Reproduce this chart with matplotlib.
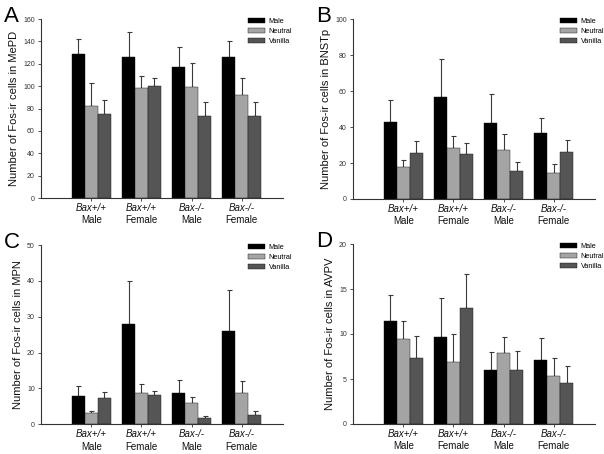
import matplotlib
matplotlib.use("Agg")
import matplotlib.pyplot as plt
import numpy as np

plt.rcParams['font.family'] = ['Liberation Sans', 'DejaVu Sans']

genotypes = ["Bax+/+", "Bax+/+", "Bax-/-", "Bax-/-"]
sexes = ["Male", "Female", "Male", "Female"]
series = ["Male", "Neutral", "Vanilla"]
colors = ["#000000", "#a4a4a4", "#555555"]

# Panel A: MePD
mepd_mean = {"Male": [128.5, 125.8, 117.2, 126.1],
             "Neutral": [81.8, 98.7, 99.6, 91.9],
             "Vanilla": [75.2, 100.2, 72.9, 72.9]}
mepd_top = {"Male": [141.9, 148.4, 135.0, 140.7],
            "Neutral": [102.6, 109.1, 120.4, 107.0],
            "Vanilla": [87.7, 107.7, 85.6, 86.2]}
# Panel B: BNSTp
bnstp_mean = {"Male": [42.5, 56.6, 42.1, 36.4],
              "Neutral": [17.6, 28.2, 27.1, 14.4],
              "Vanilla": [25.7, 25.2, 15.6, 25.9]}
bnstp_top = {"Male": [54.9, 77.7, 58.3, 44.9],
             "Neutral": [21.5, 35.2, 36.0, 19.6],
             "Vanilla": [32.0, 31.3, 20.4, 33.0]}
# Panel C: MPN
mpn_mean = {"Male": [7.9, 27.9, 8.6, 26.1],
            "Neutral": [3.1, 8.8, 6.0, 8.6],
            "Vanilla": [7.2, 8.2, 1.7, 2.7]}
mpn_top = {"Male": [10.6, 40.1, 12.3, 37.4],
           "Neutral": [3.8, 11.1, 7.5, 12.2],
           "Vanilla": [8.9, 9.4, 2.3, 3.8]}
# Panel D: AVPV
avpv_mean = {"Male": [11.4, 9.7, 6.0, 7.1],
             "Neutral": [9.4, 6.9, 7.9, 5.3],
             "Vanilla": [7.3, 12.9, 6.0, 4.6]}
avpv_top = {"Male": [14.3, 14.0, 8.0, 9.6],
            "Neutral": [11.4, 10.0, 9.7, 7.3],
            "Vanilla": [9.8, 16.7, 8.1, 6.5]}

panels = [
    ("A", "Number of Fos-ir cells in MePD", mepd_mean, mepd_top, 160, 20,
     [41/604, 1-198/454, 242/604, 179/454]),
    ("B", "Number of Fos-ir cells in BNSTp", bnstp_mean, bnstp_top, 100, 20,
     [353/604, 1-199/454, 242/604, 180/454]),
    ("C", "Number of Fos-ir cells in MPN", mpn_mean, mpn_top, 50, 10,
     [41/604, 1-424.3/454, 242/604, 179.3/454]),
    ("D", "Number of Fos-ir cells in AVPV", avpv_mean, avpv_top, 20, 5,
     [353/604, 1-424/454, 242/604, 180/454]),
]

fig = plt.figure(figsize=(6.04, 4.54), dpi=100)
x = np.arange(1, 5)
bw = 0.257
axcol = "#333333"

for letter, ylabel, means, tops, ymax, step, rect in panels:
    ax = fig.add_axes(rect)
    handles = []
    for i, s in enumerate(series):
        m = np.array(means[s])
        t = np.array(tops[s])
        xs = x + (i - 1) * bw
        b = ax.bar(xs, m, width=bw, color=colors[i], edgecolor="#111111",
                   linewidth=0.3, zorder=2, label=s)
        handles.append(b)
        ax.errorbar(xs, m, yerr=[np.zeros_like(m), t - m], fmt="none",
                    ecolor="#3a3a3a", elinewidth=0.8, capsize=1.8,
                    capthick=0.8, zorder=1)
    ax.set_xlim(0, 4.82)
    ax.set_ylim(0, ymax)
    ax.set_yticks(np.arange(0, ymax + step / 2, step))
    ax.tick_params(axis="y", labelsize=5, length=2.5, width=0.6,
                   colors=axcol, pad=2)
    ax.set_xticks(x)
    ax.set_xticklabels([])
    ax.tick_params(axis="x", length=2.5, width=0.6, colors=axcol)
    for sp in ["top", "right"]:
        ax.spines[sp].set_visible(False)
    for sp in ["left", "bottom"]:
        ax.spines[sp].set_color(axcol)
        ax.spines[sp].set_linewidth(0.8)
    ax.set_ylabel(ylabel, fontsize=8.0, labelpad=3, color="#111111")
    for xi, g, sx in zip(x, genotypes, sexes):
        ax.annotate(g, xy=(xi, 0), xycoords=("data", "axes fraction"),
                    xytext=(0, -7.3), textcoords="offset points",
                    ha="center", va="center", fontsize=7,
                    fontstyle="italic", color="#111111")
        ax.annotate(sx, xy=(xi, 0), xycoords=("data", "axes fraction"),
                    xytext=(0, -16), textcoords="offset points",
                    ha="center", va="center", fontsize=7, color="#111111")
    ax.legend(handles, series, loc="upper left", bbox_to_anchor=(0.855, 1.005),
              frameon=False, fontsize=5.2, handlelength=2.4,
              handleheight=0.7, handletextpad=0.5, labelspacing=0.4,
              borderpad=0, borderaxespad=0)
    fig.text(rect[0] - 37/604, rect[1] + rect[3] - 3/454, letter,
             fontsize=16, ha="left", va="baseline")

fig.savefig("out.png", dpi=100)
